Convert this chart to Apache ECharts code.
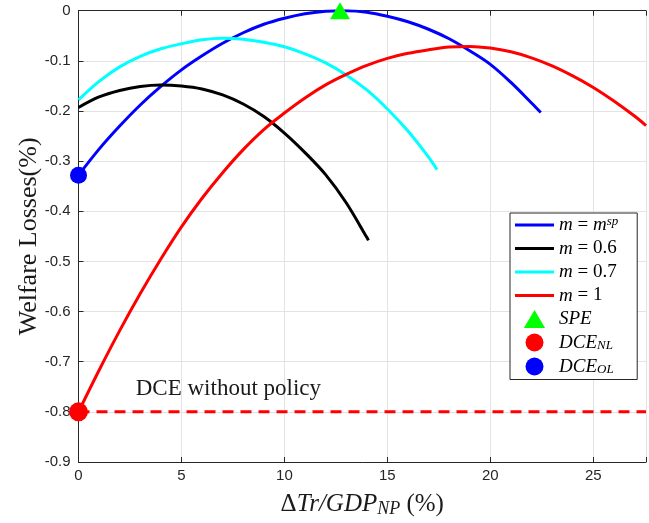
<!DOCTYPE html>
<html><head><meta charset="utf-8">
<script src="https://cdn.jsdelivr.net/npm/echarts@6/dist/echarts.min.js"></script>
<style>html,body{margin:0;padding:0;background:#fff}#c{width:649px;height:523px}</style>
</head><body><div id="c"></div>
<script>
// ---- data ----
const blueX = [0,1,2,3,4,5,6,7,8,9,10,11,12,12.7,13,14,15,16,17,18,19,20,21,22,22.45];
const blueY = [-0.328,-0.276,-0.230,-0.188,-0.151,-0.118,-0.090,-0.065,-0.044,-0.027,-0.015,-0.006,-0.001,0,0,-0.003,-0.011,-0.022,-0.037,-0.056,-0.080,-0.107,-0.143,-0.184,-0.203];
const blackX = [0,1,2,3,4,5,6,7,8,9,10,11,12,13,14,14.08];
const blackY = [-0.193,-0.172,-0.159,-0.151,-0.148,-0.150,-0.156,-0.168,-0.186,-0.211,-0.244,-0.283,-0.327,-0.383,-0.452,-0.458];
const cyanX = [0,1,2,3,4,5,6,7,8,9,10,11,12,13,14,15,16,17,17.41];
const cyanY = [-0.178,-0.141,-0.112,-0.091,-0.076,-0.066,-0.058,-0.055,-0.057,-0.063,-0.072,-0.086,-0.104,-0.128,-0.158,-0.196,-0.240,-0.292,-0.317];
const redX = [0,1,2,3,4,5,6,7,8,9,10,11,12,13,14,15,16,17,18,19,20,21,22,23,24,25,26,27,27.56];
const redY = [-0.800,-0.717,-0.638,-0.564,-0.495,-0.431,-0.374,-0.323,-0.277,-0.237,-0.204,-0.174,-0.148,-0.127,-0.109,-0.095,-0.085,-0.078,-0.0725,-0.0712,-0.0745,-0.082,-0.094,-0.110,-0.130,-0.153,-0.180,-0.210,-0.229];
const noPolicyX = [0, 27.56];
const noPolicyY = [-0.8, -0.8];
const speX = [12.7], speY = [0];
const dceNLX = [0], dceNLY = [-0.8];
const dceOLX = [0], dceOLY = [-0.328];
const annotX = 2.78, annotY = -0.755, annotText = 'DCE without policy';
const xTicks = [0,5,10,15,20,25];
const yTicks = [0,-0.1,-0.2,-0.3,-0.4,-0.5,-0.6,-0.7,-0.8,-0.9];
const xMin = 0, xMax = 27.56, xStep = 5;
const yMin = -0.9, yMax = 0, yStep = 0.1;
const seriesNames = ['mmsp','m06','m07','m1','SPE','DCENL','DCEOL'];

const zip = (xs, ys) => xs.map((x, i) => [x, ys[i]]);
const SERIF = "'Liberation Serif','DejaVu Serif',serif";
const SANS = "'Liberation Sans',Arial,Helvetica,sans-serif";
const AX = '#262626';
const GRID = '#e3e3e3';

const legendLabels = {
  mmsp: '{i|m}{n| = }{i|m}{sup|sp}',
  m06: '{i|m}{n| = 0.6}',
  m07: '{i|m}{n| = 0.7}',
  m1: '{i|m}{n| = 1}',
  SPE: '{i|SPE}',
  DCENL: '{i|DCE}{sub|NL}',
  DCEOL: '{i|DCE}{sub|OL}'
};
const linePath = 'path://M0,0H39V3H0Z';
const triPath = 'path://M10,0L20,17L0,17Z';

const chart = echarts.init(document.getElementById('c'), null, {renderer: 'canvas'});
const xLabelFmt = v => xTicks.some(t => Math.abs(t - v) < 1e-9) ? String(v) : '';
const yLabelFmt = v => Math.abs(v) < 1e-9 ? '0' : (yTicks.some(t => Math.abs(t - v) < 1e-9) ? v.toFixed(1) : '');

const lineS = (name, xs, ys, color) => ({
  name, type: 'line', data: zip(xs, ys), showSymbol: false, symbol: 'none',
  smooth: 0.35, lineStyle: {color, width: 3}, itemStyle: {color}, z: 3
});

chart.setOption({
  animation: false,
  backgroundColor: '#fff',
  grid: {left: 78.5, right: 0, top: 10.7, bottom: 56},
  xAxis: [{
    type: 'value', min: xMin, max: xMax, interval: xStep,
    axisLine: {show: true, onZero: false, lineStyle: {color: AX, width: 1}},
    axisTick: {show: true, inside: true, length: 5, lineStyle: {color: AX}},
    axisLabel: {formatter: xLabelFmt, color: AX, fontFamily: SANS, fontSize: 15, margin: 6},
    splitLine: {show: true, lineStyle: {color: GRID, width: 1}},
    name: '{n|Δ}{i|Tr/GDP}{sub|NP}{n| (%)}',
    nameLocation: 'middle', nameGap: 28,
    nameTextStyle: {
      color: '#1a1a1a', fontFamily: SERIF, fontSize: 25,
      rich: {
        n: {fontFamily: SERIF, fontSize: 25, color: '#1a1a1a', lineHeight: 28},
        i: {fontFamily: SERIF, fontStyle: 'italic', fontSize: 25, color: '#1a1a1a', lineHeight: 28},
        sub: {fontFamily: SERIF, fontStyle: 'italic', fontSize: 18, color: '#1a1a1a', lineHeight: 17, verticalAlign: 'bottom'}
      }
    }
  }, {
    type: 'value', position: 'top', min: xMin, max: xMax, interval: xStep,
    axisLine: {show: true, onZero: false, lineStyle: {color: AX, width: 1}},
    axisTick: {show: true, inside: true, length: 5, lineStyle: {color: AX}},
    axisLabel: {show: false}, splitLine: {show: false}
  }],
  yAxis: {
    type: 'value', min: yMin, max: yMax, interval: yStep,
    axisLine: {show: true, onZero: false, lineStyle: {color: AX, width: 1}},
    axisTick: {show: true, inside: true, length: 5, lineStyle: {color: AX}},
    axisLabel: {formatter: yLabelFmt, color: AX, fontFamily: SANS, fontSize: 15, margin: 8},
    splitLine: {show: true, lineStyle: {color: GRID, width: 1}},
    name: 'Welfare Losses(%)', nameLocation: 'middle', nameGap: 36, nameRotate: 90,
    nameMoveOverlap: false,
    nameTextStyle: {color: '#1a1a1a', fontFamily: SERIF, fontSize: 26}
  },
  legend: {
    orient: 'vertical', left: 510, top: 213,
    itemWidth: 39, itemHeight: 18, itemGap: 4.5,
    padding: [2, 19, 3, 5],
    borderColor: AX, borderWidth: 1, borderRadius: 0, backgroundColor: '#fff',
    selectedMode: false,
    data: [
      {name: 'mmsp', icon: linePath}, {name: 'm06', icon: linePath},
      {name: 'm07', icon: linePath}, {name: 'm1', icon: linePath},
      {name: 'SPE', icon: triPath}, {name: 'DCENL', icon: 'circle'}, {name: 'DCEOL', icon: 'circle'}
    ],
    formatter: n => legendLabels[n],
    textStyle: {
      color: '#000', fontFamily: SERIF, fontSize: 19,
      rich: {
        n: {fontFamily: SERIF, fontSize: 19, color: '#000', lineHeight: 20},
        i: {fontFamily: SERIF, fontStyle: 'italic', fontSize: 19, color: '#000', lineHeight: 20},
        sup: {fontFamily: SERIF, fontStyle: 'italic', fontSize: 13, color: '#000', lineHeight: 13, verticalAlign: 'top'},
        sub: {fontFamily: SERIF, fontStyle: 'italic', fontSize: 13, color: '#000', lineHeight: 13, verticalAlign: 'bottom'}
      }
    }
  },
  series: [
    lineS(seriesNames[0], blueX, blueY, '#0000ff'),
    lineS(seriesNames[1], blackX, blackY, '#000000'),
    lineS(seriesNames[2], cyanX, cyanY, '#00ffff'),
    lineS(seriesNames[3], redX, redY, '#ff0000'),
    {
      name: 'noPolicy', type: 'line', data: zip(noPolicyX, noPolicyY), showSymbol: false, symbol: 'none',
      lineStyle: {color: '#ff0000', width: 3, type: [11, 7]}, z: 2,
      markPoint: {
        symbol: 'circle', symbolSize: 0, silent: true,
        data: [{coord: [annotX, annotY], value: annotText}],
        label: {show: true, position: 'right', distance: 0, formatter: annotText,
                color: '#1a1a1a', fontFamily: SERIF, fontSize: 23}
      }
    },
    {name: seriesNames[4], type: 'scatter', data: zip(speX, speY), symbol: 'triangle', symbolSize: [20, 17],
     itemStyle: {color: '#00ff00', opacity: 1}, clip: false, z: 5},
    {name: seriesNames[5], type: 'scatter', data: zip(dceNLX, dceNLY), symbol: 'circle', symbolSize: 19,
     itemStyle: {color: '#ff0000', opacity: 1}, clip: false, z: 5},
    {name: seriesNames[6], type: 'scatter', data: zip(dceOLX, dceOLY), symbol: 'circle', symbolSize: 17,
     itemStyle: {color: '#0000ff', opacity: 1}, clip: false, z: 5}
  ]
});
</script></body></html>
